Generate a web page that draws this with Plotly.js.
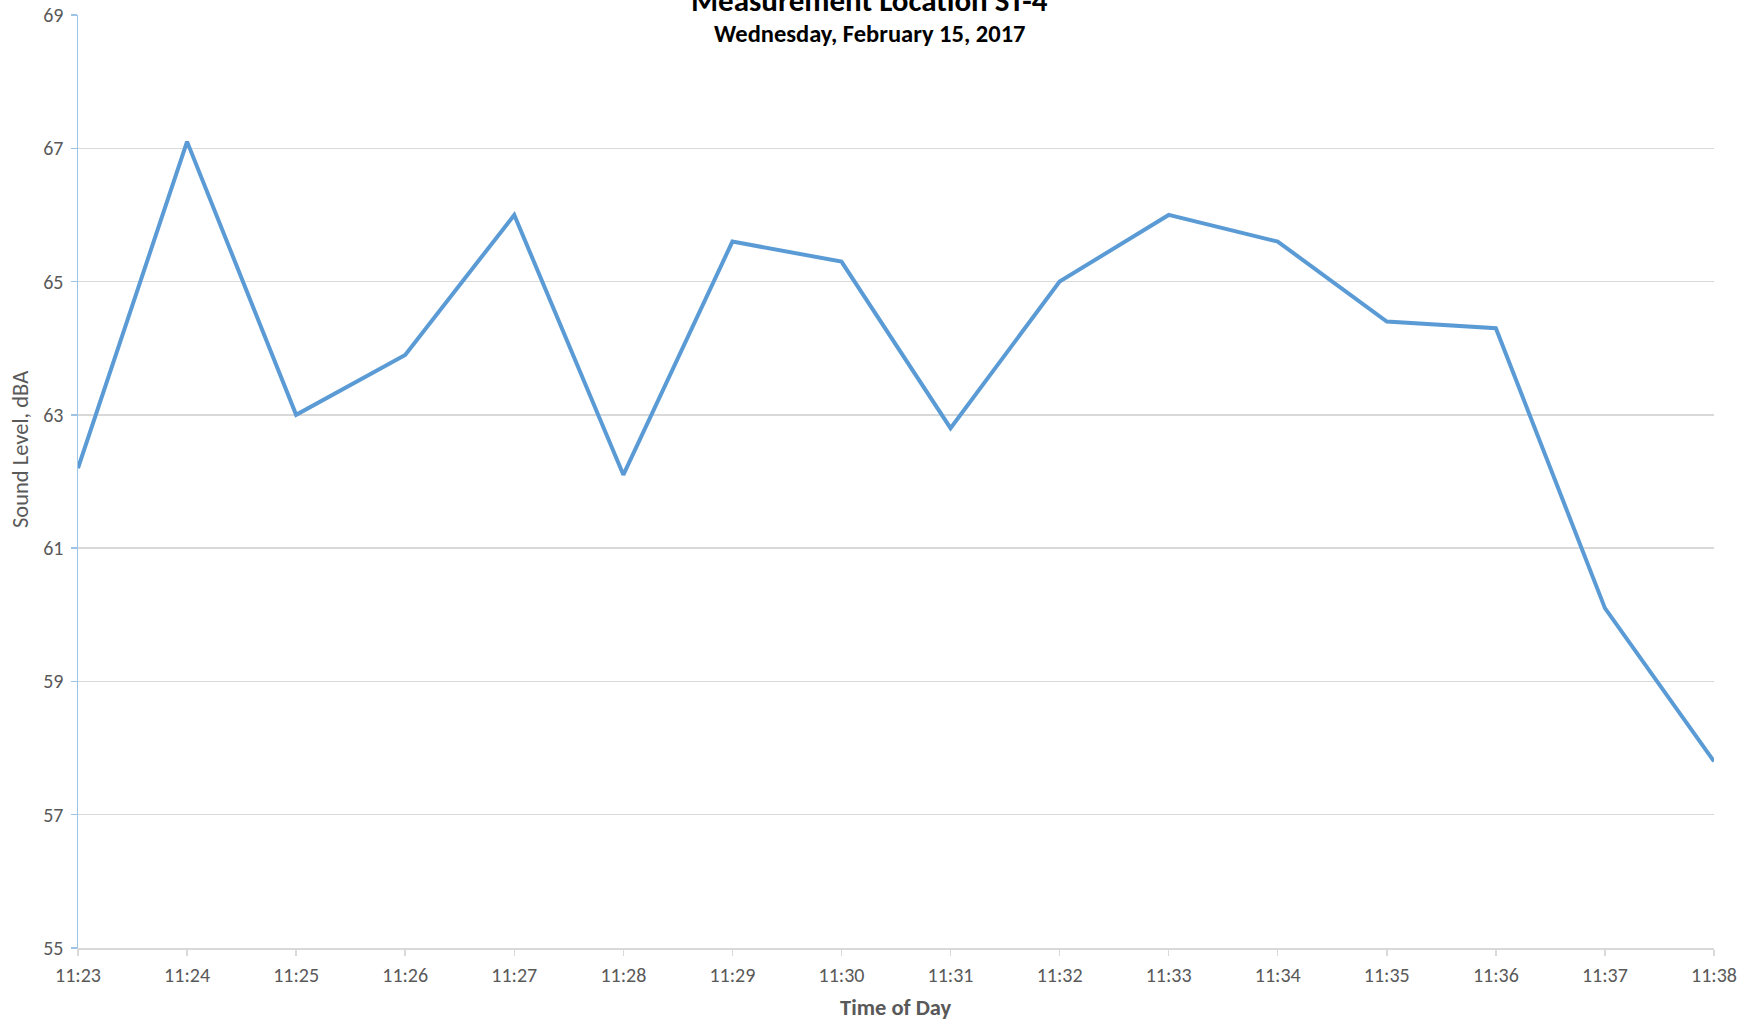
<!DOCTYPE html>
<html>
<head>
<meta charset="utf-8">
<script src="https://cdn.plot.ly/plotly-3.0.1.min.js"></script>
<style>html,body{margin:0;padding:0;background:#fff;}#chart{width:1754px;height:1024px;}</style>
</head>
<body>
<div id="chart"></div>
<script>
const times = ["11:23","11:24","11:25","11:26","11:27","11:28","11:29","11:30","11:31","11:32","11:33","11:34","11:35","11:36","11:37","11:38"];
const soundLevel = [62.2,67.1,63.0,63.9,66.0,62.1,65.6,65.3,62.8,65.0,66.0,65.6,64.4,64.3,60.1,57.8];
const yTicks = [55,57,59,61,63,65,67,69];
const titleText = "Measurement Location ST-4";
const subtitleText = "Wednesday, February 15, 2017";
const xTitle = "Time of Day";
const yTitle = "Sound Level, dBA";

const FONT = "Carlito, Lato, 'Liberation Sans', sans-serif";

const trace = {
  x: times, y: soundLevel, type: "scatter", mode: "lines",
  line: {color: "#5B9BD5", width: 4},
  hoverinfo: "x+y"
};

const layout = {
  width: 1754, height: 1024,
  margin: {l: 78, r: 40, t: 14.5, b: 76},
  paper_bgcolor: "#ffffff", plot_bgcolor: "#ffffff",
  showlegend: false,
  font: {family: FONT, color: "#595959", size: 20},
  xaxis: {
    type: "category",
    range: [0, times.length - 1],
    showgrid: false,
    zeroline: false,
    showline: true, linecolor: "#d9d9d9", linewidth: 1.5,
    ticks: "outside", ticklen: 6, tickcolor: "#d9d9d9", tickwidth: 1.5,
    ticklabelstandoff: 2,
    tickfont: {family: FONT, size: 20, color: "#595959"},
    fixedrange: true
  },
  yaxis: {
    range: [55, 69],
    tickvals: yTicks,
    ticktext: yTicks.map(String),
    showgrid: true, gridcolor: "#d9d9d9", gridwidth: 1.5,
    zeroline: false,
    showline: true, linecolor: "#9DC3E6", linewidth: 1.5,
    ticks: "outside", ticklen: 6, tickcolor: "#9DC3E6", tickwidth: 1.5,
    ticklabelstandoff: 3,
    tickfont: {family: FONT, size: 20, color: "#595959"},
    fixedrange: true
  },
  annotations: [
    {text: "<b>" + titleText + "</b>", xref: "paper", yref: "paper",
     x: 0.4835, y: 1.0, yshift: 15, xanchor: "center", yanchor: "middle",
     showarrow: false, font: {family: FONT, size: 31, color: "#000000"}},
    {text: "<b>" + subtitleText + "</b>", xref: "paper", yref: "paper",
     x: 0.4835, y: 1.0, yshift: -18.5, xanchor: "center", yanchor: "middle",
     showarrow: false, font: {family: FONT, size: 24.5, color: "#000000"}},
    {text: "<b>" + xTitle + "</b>", xref: "paper", yref: "paper",
     x: 0.5, y: 0, yshift: -59, xanchor: "center", yanchor: "middle",
     showarrow: false, font: {family: FONT, size: 22.5, color: "#595959"}},
    {text: yTitle, xref: "paper", yref: "paper", textangle: -90,
     x: 0, xshift: -58, y: 0.5, yshift: 31.5, xanchor: "center", yanchor: "middle",
     showarrow: false, font: {family: FONT, size: 22.5, color: "#595959"}}
  ]
};

Plotly.newPlot("chart", [trace], layout, {displayModeBar: false, staticPlot: true});
</script>
</body>
</html>
